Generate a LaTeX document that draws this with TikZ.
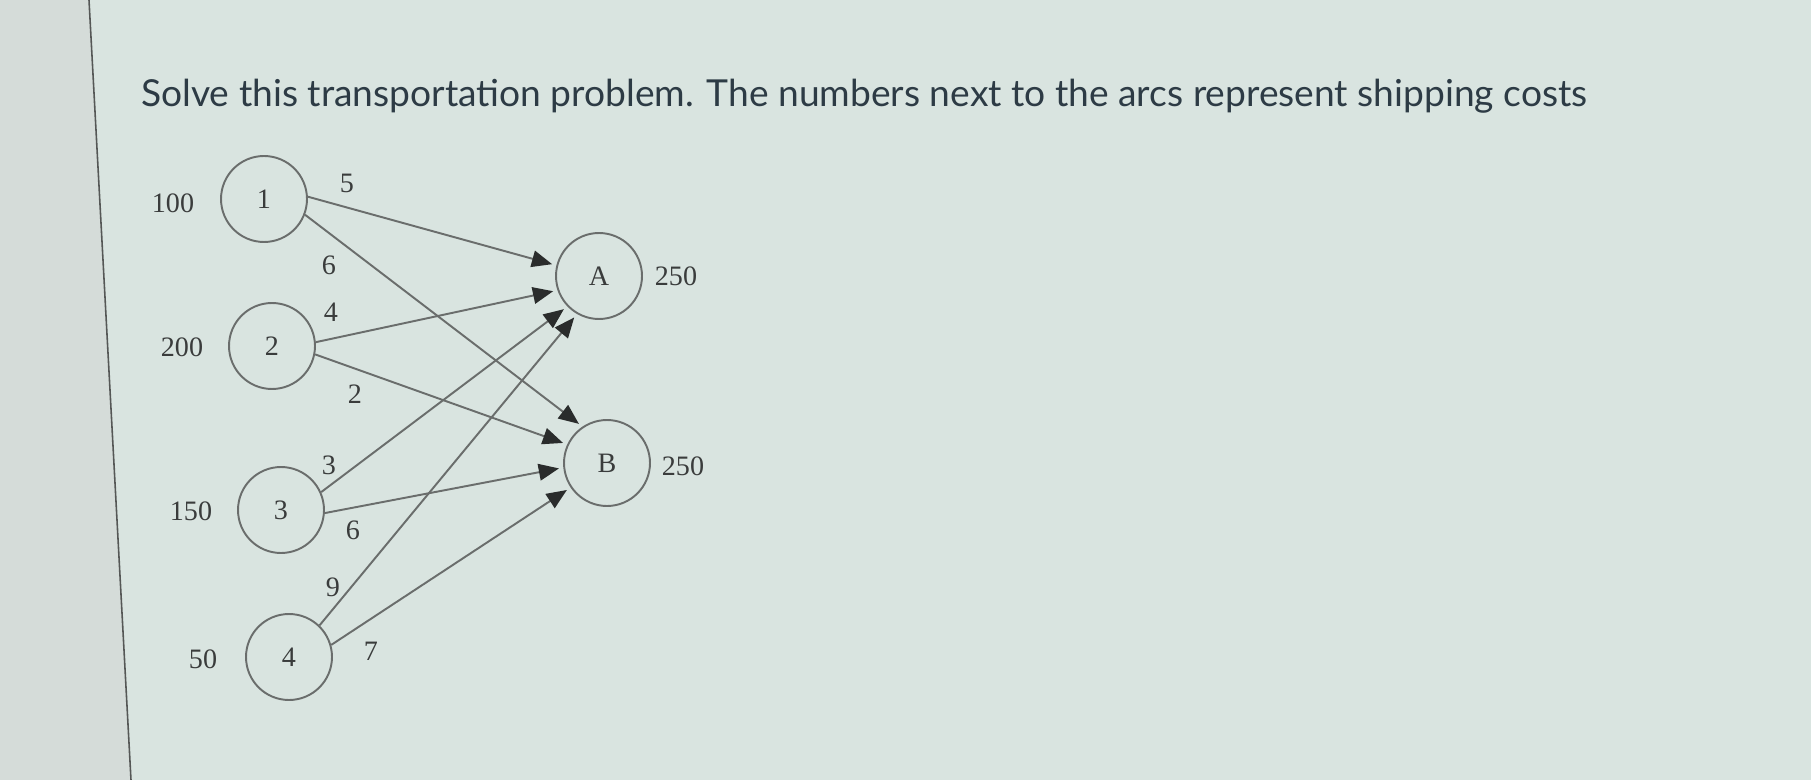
\documentclass[tikz,border=0pt]{standalone}
\usepackage{fontspec}
\usepackage{graphicx}
\usetikzlibrary{arrows.meta}
\newfontfamily\titlefont{Lato}
\newfontfamily\numfont{Liberation Serif}
\definecolor{bgright}{HTML}{D9E4E0}
\definecolor{bgleft}{HTML}{D5DCD9}
\definecolor{titlecol}{HTML}{2D3B45}
\definecolor{linecol}{HTML}{6A6D6C}
\definecolor{tipcol}{HTML}{2A2C2C}
\definecolor{labcol}{HTML}{3A3C3C}
\begin{document}
\begin{tikzpicture}[x=0.02cm,y=-0.02cm,
  vert/.style={circle,draw=linecol,line width=1.1pt,minimum size=1.72cm,inner sep=0pt,
    font=\numfont\fontsize{16}{18}\selectfont,text=labcol},
  lab/.style={font=\numfont\fontsize{16}{18}\selectfont,text=labcol,inner sep=0pt},
  arc/.style={draw=linecol,line width=1.1pt,shorten >=2.5pt,
    -{Triangle[length=11.5pt,width=9.5pt,color=tipcol]}}]
\useasboundingbox (0,0) rectangle (1811,780);
\fill[bgright] (0,0) rectangle (1811,780);
\fill[bgleft] (0,0) -- (89,0) -- (131,780) -- (0,780) -- cycle;
\coordinate (ltop) at (89,0);
\coordinate (lbot) at (131,780);
\draw[color=linecol!80!black,line width=0.9pt] (ltop) -- (lbot);
\node[anchor=base west,inner sep=0pt,text=titlecol] (title) at (141,107)
  {\resizebox{823pt}{!}{\titlefont Solve this transportation problem. The numbers next to the arcs represent shipping costs}};
% nodes
\node[vert] (n1) at (264,199) {1};
\node[vert] (n2) at (272,346) {2};
\node[vert] (n3) at (281,510) {3};
\node[vert] (n4) at (289,657) {4};
\node[vert] (nA) at (599,276) {A};
\node[vert] (nB) at (607,463) {B};
% supplies / demands
\node[lab] (s1) at (173,203) {100};
\node[lab] (s2) at (182,347) {200};
\node[lab] (s3) at (191,511) {150};
\node[lab] (s4) at (203,659) {50};
\node[lab] (dA) at (676,276) {250};
\node[lab] (dB) at (683,466) {250};
% arcs
\draw[arc] (n1.3) -- (nA.166);
\draw[arc] (n1.-21) -- (nB.124);
\draw[arc] (n2.5) -- (nA.199);
\draw[arc] (n2.-11) -- (nB.155);
\draw[arc] (n3.24) -- (nA.224);
\draw[arc] (n3.-4) -- (nB.186);
\draw[arc] (n4.46) -- (nA.240);
\draw[arc] (n4.16) -- (nB.214);
% costs
\node[lab] (c1A) at (347,183) {5};
\node[lab] (c1B) at (329,265) {6};
\node[lab] (c2A) at (331,312) {4};
\node[lab] (c2B) at (355,394) {2};
\node[lab] (c3A) at (329,465) {3};
\node[lab] (c3B) at (353,530) {6};
\node[lab] (c4A) at (333,587) {9};
\node[lab] (c4B) at (371,651) {7};
\end{tikzpicture}
\end{document}
